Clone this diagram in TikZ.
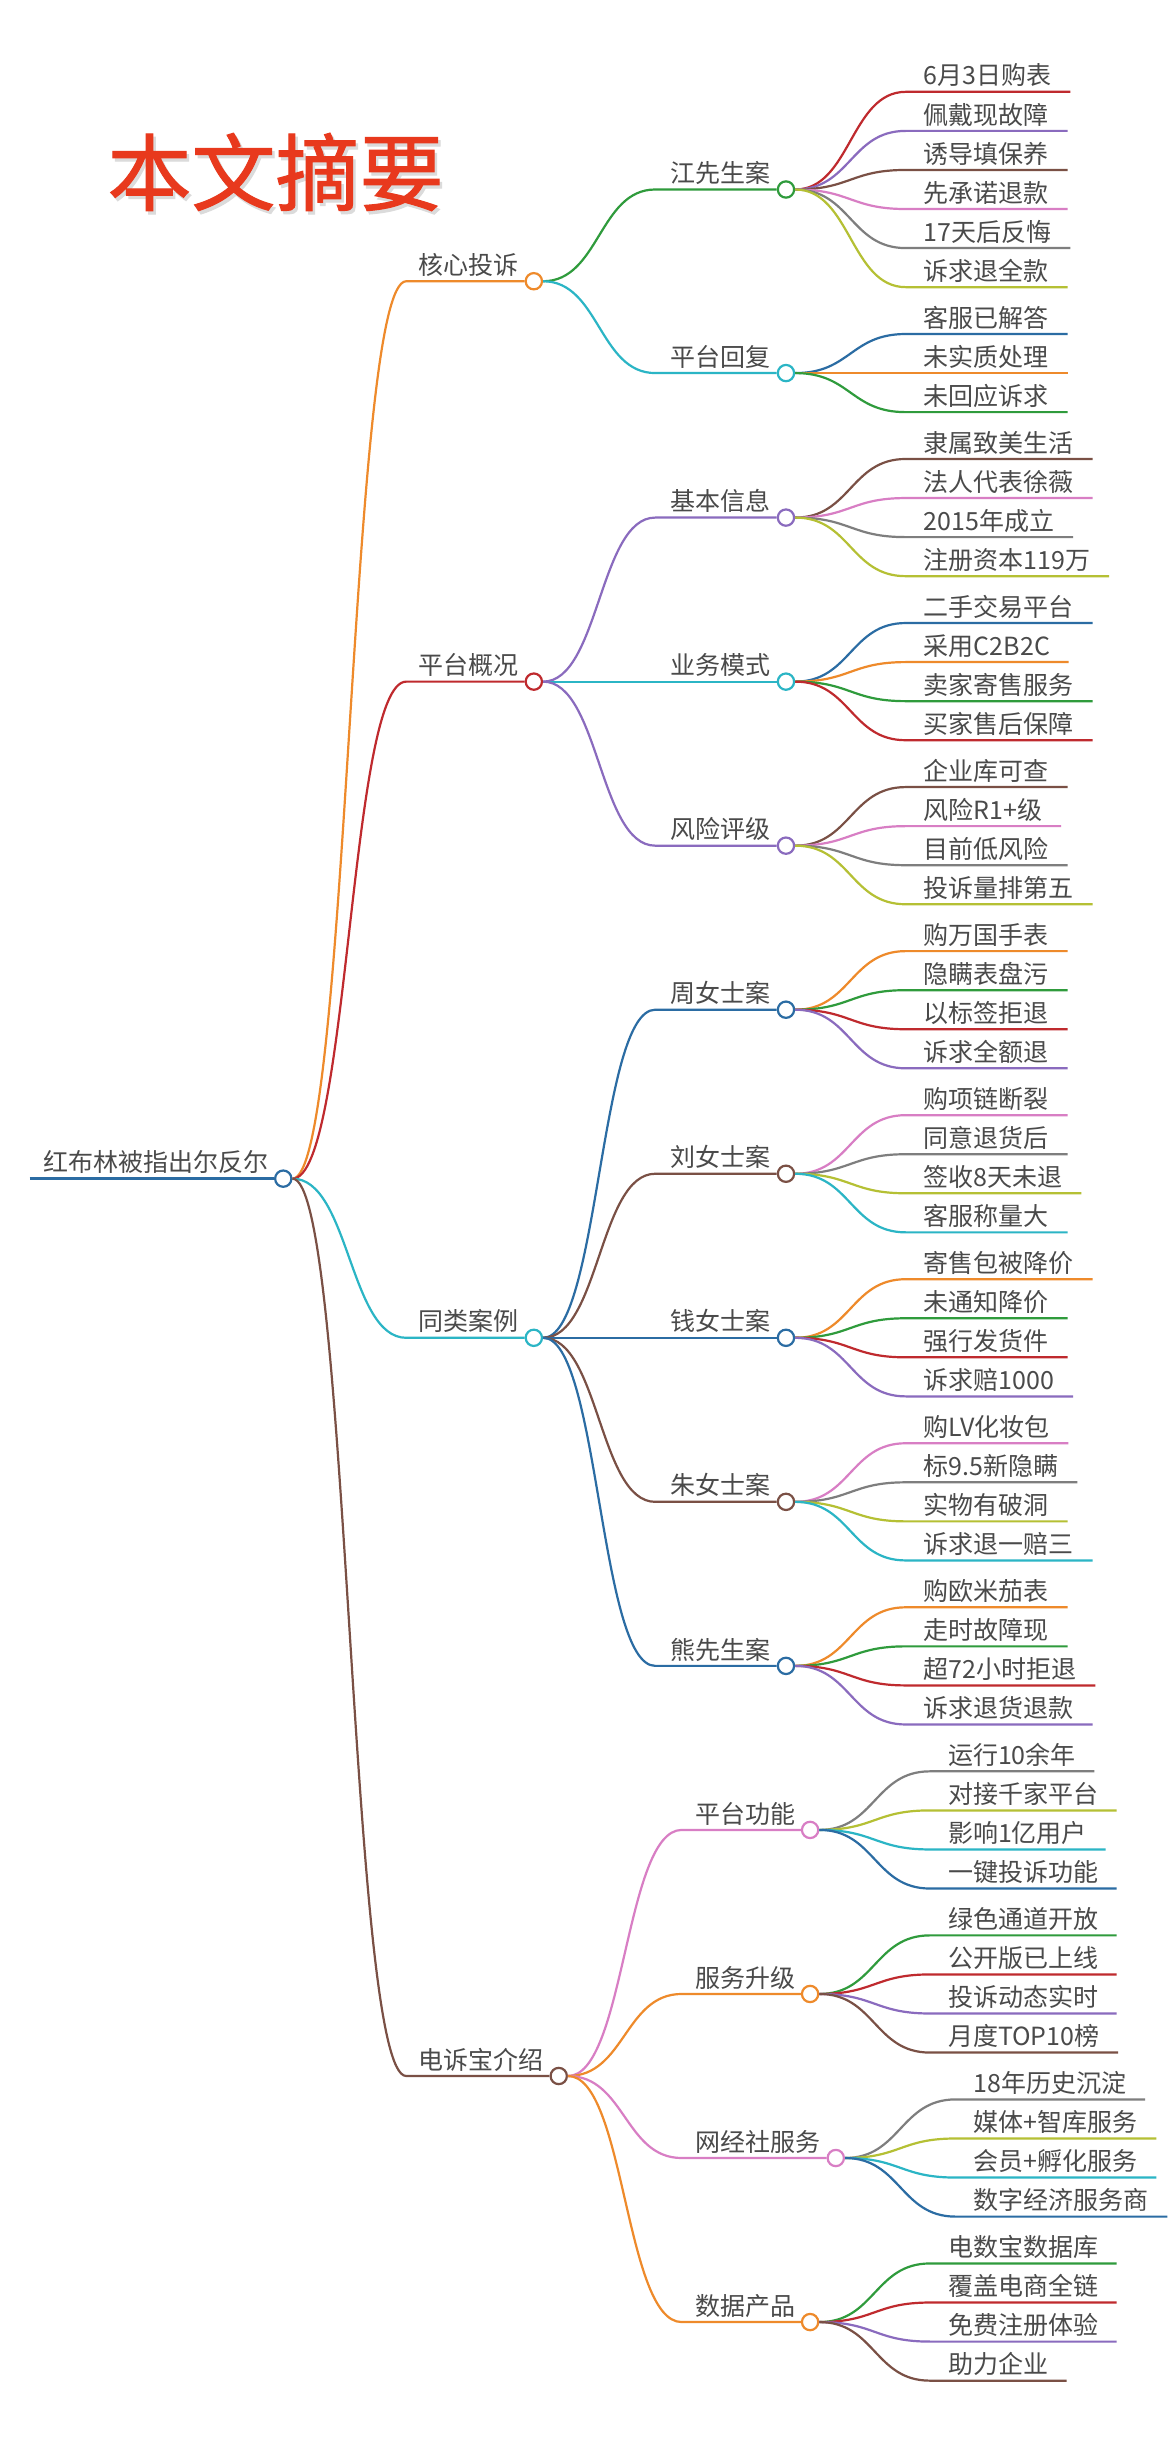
\documentclass[tikz,border=0pt]{standalone}
\usepackage{fontspec}
\setmainfont{Noto Sans CJK SC}
\newfontfamily\mmtitlefont[FakeBold=1.2]{Noto Sans CJK SC}
\usetikzlibrary{calc}
\definecolor{cblue}{HTML}{2B6CA3}
\definecolor{corange}{HTML}{EE8A2B}
\definecolor{cred}{HTML}{BF2A2E}
\definecolor{cteal}{HTML}{2BB5C5}
\definecolor{cbrown}{HTML}{7A5045}
\definecolor{cpurple}{HTML}{8A6BBE}
\definecolor{cpink}{HTML}{D87EC4}
\definecolor{cgray}{HTML}{7E7E7E}
\definecolor{colive}{HTML}{B5C034}
\definecolor{cgreen}{HTML}{2F9B3C}
\definecolor{txt}{HTML}{4A4A4A}
\definecolor{ctitle}{HTML}{E8391D}
\tikzset{
  mmline/.style={draw=#1, line width=2.2pt, line cap=butt},
  dot/.style={circle, draw=#1, fill=white, line width=2.2pt, minimum size=16.3pt, inner sep=0pt},
  lbl/.style={inner sep=0pt, text=txt, font=\fontsize{25pt}{30pt}\selectfont},
  titlefont/.style={inner sep=0pt, font=\mmtitlefont\fontsize{84pt}{90pt}\selectfont},
}
% branch node with circle: name, parent, color, circle x, y, text, line start x
\newcommand\mmbranch[7]{%
  \node[dot=#3] (#1) at (#4,#5) {};
  \node[lbl, anchor=base east] (#1t) at ({#4-9.5},{#5-4.4}) {#6};
  \coordinate (#1s) at (#7,#5);
  \draw[mmline=#3] let \p1=(#2.east), \p2=(#1s) in (\p1) .. controls ({(\x1+\x2)/2},\y1) and ({(\x1+\x2)/2},\y2) .. (\p2) -- (#1.west);}
% leaf: name, parent, color, text x, y, text
\newcommand\mmleaf[6]{%
  \node[lbl, anchor=base west] (#1) at (#4,{#5-4.4}) {#6};
  \coordinate (#1s) at ({#4-11.5},#5);
  \draw[mmline=#3] let \p1=(#2.east), \p2=(#1s), \p3=(#1.east) in (\p1) .. controls ({(\x1+\x2)/2},\y1) and ({(\x1+\x2)/2},\y2) .. (\p2) -- ({\x3+18.5pt},\y2);}
\begin{document}
\begin{tikzpicture}[x=1.5564pt, y=-1.5564pt]
\fill[white] (0,0) rectangle (753.02,1567.1);
\useasboundingbox (0,0) rectangle (753.02,1567.1);
% title
\node[titlefont, text=black!14] (titleshadow) at (178.6,112.6) {本文摘要};
\node[titlefont, text=ctitle] (title) at (177,110.5) {本文摘要};
% root
\node[dot=cblue] (root) at (182,757.3) {};
\node[lbl, anchor=base east] (roott) at (172.5,752.9) {红布林被指出尔反尔};
\coordinate (rootstart) at (19,757.3);
\draw[mmline=cblue, line width=2.6pt] (rootstart) -- (root.west);
% level 1
\mmbranch{A}{root}{corange}{343}{180.7}{核心投诉}{261}
\mmbranch{B}{root}{cred}{343}{437.95}{平台概况}{261}
\mmbranch{C}{root}{cteal}{343}{859.55}{同类案例}{261}
\mmbranch{D}{root}{cbrown}{359}{1333.85}{电诉宝介绍}{261}
% level 2
\mmbranch{A1}{A}{cgreen}{505}{121.75}{江先生案}{421}
\mmbranch{A2}{A}{cteal}{505}{239.7}{平台回复}{421}
\mmbranch{B1}{B}{cpurple}{505}{332.55}{基本信息}{421}
\mmbranch{B2}{B}{cteal}{505}{437.95}{业务模式}{421}
\mmbranch{B3}{B}{cpurple}{505}{543.35}{风险评级}{421}
\mmbranch{C1}{C}{cblue}{505}{648.75}{周女士案}{421}
\mmbranch{C2}{C}{cbrown}{505}{754.15}{刘女士案}{421}
\mmbranch{C3}{C}{cblue}{505}{859.55}{钱女士案}{421}
\mmbranch{C4}{C}{cbrown}{505}{964.95}{朱女士案}{421}
\mmbranch{C5}{C}{cblue}{505}{1070.35}{熊先生案}{421}
\mmbranch{D1}{D}{cpink}{520.5}{1175.75}{平台功能}{438}
\mmbranch{D2}{D}{corange}{520.5}{1281.15}{服务升级}{438}
\mmbranch{D3}{D}{cpink}{537}{1386.55}{网经社服务}{438}
\mmbranch{D4}{D}{corange}{520.5}{1491.95}{数据产品}{438}
% leaves
\mmleaf{A1a}{A1}{cred}{593.5}{59}{6月3日购表}
\mmleaf{A1b}{A1}{cpurple}{593.5}{84.1}{佩戴现故障}
\mmleaf{A1c}{A1}{cbrown}{593.5}{109.2}{诱导填保养}
\mmleaf{A1d}{A1}{cpink}{593.5}{134.3}{先承诺退款}
\mmleaf{A1e}{A1}{cgray}{593.5}{159.4}{17天后反悔}
\mmleaf{A1f}{A1}{colive}{593.5}{184.5}{诉求退全款}
\mmleaf{A2a}{A2}{cblue}{593.5}{214.6}{客服已解答}
\mmleaf{A2b}{A2}{corange}{593.5}{239.7}{未实质处理}
\mmleaf{A2c}{A2}{cgreen}{593.5}{264.8}{未回应诉求}
\mmleaf{B1a}{B1}{cbrown}{593.5}{294.9}{隶属致美生活}
\mmleaf{B1b}{B1}{cpink}{593.5}{320.0}{法人代表徐薇}
\mmleaf{B1c}{B1}{cgray}{593.5}{345.1}{2015年成立}
\mmleaf{B1d}{B1}{colive}{593.5}{370.2}{注册资本119万}
\mmleaf{B2a}{B2}{cblue}{593.5}{400.3}{二手交易平台}
\mmleaf{B2b}{B2}{corange}{593.5}{425.4}{采用C2B2C}
\mmleaf{B2c}{B2}{cgreen}{593.5}{450.5}{卖家寄售服务}
\mmleaf{B2d}{B2}{cred}{593.5}{475.6}{买家售后保障}
\mmleaf{B3a}{B3}{cbrown}{593.5}{505.7}{企业库可查}
\mmleaf{B3b}{B3}{cpink}{593.5}{530.8}{风险R1+级}
\mmleaf{B3c}{B3}{cgray}{593.5}{555.9}{目前低风险}
\mmleaf{B3d}{B3}{colive}{593.5}{581.0}{投诉量排第五}
\mmleaf{C1a}{C1}{corange}{593.5}{611.1}{购万国手表}
\mmleaf{C1b}{C1}{cgreen}{593.5}{636.2}{隐瞒表盘污}
\mmleaf{C1c}{C1}{cred}{593.5}{661.3}{以标签拒退}
\mmleaf{C1d}{C1}{cpurple}{593.5}{686.4}{诉求全额退}
\mmleaf{C2a}{C2}{cpink}{593.5}{716.5}{购项链断裂}
\mmleaf{C2b}{C2}{cgray}{593.5}{741.6}{同意退货后}
\mmleaf{C2c}{C2}{colive}{593.5}{766.7}{签收8天未退}
\mmleaf{C2d}{C2}{cteal}{593.5}{791.8}{客服称量大}
\mmleaf{C3a}{C3}{corange}{593.5}{821.9}{寄售包被降价}
\mmleaf{C3b}{C3}{cgreen}{593.5}{847.0}{未通知降价}
\mmleaf{C3c}{C3}{cred}{593.5}{872.1}{强行发货件}
\mmleaf{C3d}{C3}{cpurple}{593.5}{897.2}{诉求赔1000}
\mmleaf{C4a}{C4}{cpink}{593.5}{927.3}{购LV化妆包}
\mmleaf{C4b}{C4}{cgray}{593.5}{952.4}{标9.5新隐瞒}
\mmleaf{C4c}{C4}{colive}{593.5}{977.5}{实物有破洞}
\mmleaf{C4d}{C4}{cteal}{593.5}{1002.6}{诉求退一赔三}
\mmleaf{C5a}{C5}{corange}{593.5}{1032.7}{购欧米茄表}
\mmleaf{C5b}{C5}{cgreen}{593.5}{1057.8}{走时故障现}
\mmleaf{C5c}{C5}{cred}{593.5}{1082.9}{超72小时拒退}
\mmleaf{C5d}{C5}{cpurple}{593.5}{1108.0}{诉求退货退款}
\mmleaf{D1a}{D1}{cgray}{609}{1138.1}{运行10余年}
\mmleaf{D1b}{D1}{colive}{609}{1163.2}{对接千家平台}
\mmleaf{D1c}{D1}{cteal}{609}{1188.3}{影响1亿用户}
\mmleaf{D1d}{D1}{cblue}{609}{1213.4}{一键投诉功能}
\mmleaf{D2a}{D2}{cgreen}{609}{1243.5}{绿色通道开放}
\mmleaf{D2b}{D2}{cred}{609}{1268.6}{公开版已上线}
\mmleaf{D2c}{D2}{cpurple}{609}{1293.7}{投诉动态实时}
\mmleaf{D2d}{D2}{cbrown}{609}{1318.8}{月度TOP10榜}
\mmleaf{D3a}{D3}{cgray}{625.5}{1348.9}{18年历史沉淀}
\mmleaf{D3b}{D3}{colive}{625.5}{1374.0}{媒体+智库服务}
\mmleaf{D3c}{D3}{cteal}{625.5}{1399.1}{会员+孵化服务}
\mmleaf{D3d}{D3}{cblue}{625.5}{1424.2}{数字经济服务商}
\mmleaf{D4a}{D4}{cgreen}{609}{1454.3}{电数宝数据库}
\mmleaf{D4b}{D4}{cred}{609}{1479.4}{覆盖电商全链}
\mmleaf{D4c}{D4}{cpurple}{609}{1504.5}{免费注册体验}
\mmleaf{D4d}{D4}{cbrown}{609}{1529.6}{助力企业}
\end{tikzpicture}
\end{document}
